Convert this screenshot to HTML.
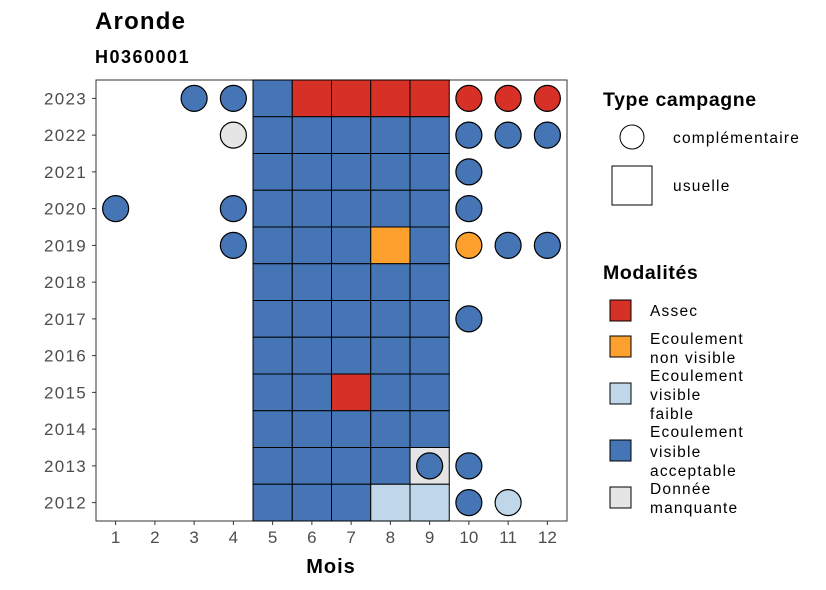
<!DOCTYPE html>
<html><head><meta charset="utf-8"><style>
body{margin:0;background:#fff;}
svg{display:block;font-family:"Liberation Sans",sans-serif;}
.lg{font-size:15.5px;letter-spacing:1.2px;}
</style></head><body>
<svg id="chart" width="826" height="590">
<text x="95" y="29" font-size="24" font-weight="bold" letter-spacing="1.2">Aronde</text>
<text x="95" y="63" font-size="18" font-weight="bold" letter-spacing="1.5">H0360001</text>
<text x="331" y="573" font-size="20" font-weight="bold" letter-spacing="1" text-anchor="middle">Mois</text>
<g id="plot"></g>
<g>
<text x="603" y="106" font-size="19.5" font-weight="bold" letter-spacing="0.6">Type campagne</text>
<circle cx="632" cy="137" r="12" fill="#fff" stroke="#000"/>
<text x="673" y="143" class="lg">complémentaire</text>
<rect x="612" y="166" width="40" height="39" fill="#fff" stroke="#000"/>
<text x="673" y="191" class="lg">usuelle</text>
<text x="603" y="279" font-size="19.5" font-weight="bold" letter-spacing="0.6">Modalités</text>
<rect x="610" y="300" width="21" height="21" fill="#D73027" stroke="#000"/>
<text x="650" y="316" class="lg">Assec</text>
<rect x="610" y="336" width="21" height="21" fill="#FDA02E" stroke="#000"/>
<text class="lg"><tspan x="650" y="344">Ecoulement</tspan><tspan x="650" y="363">non visible</tspan></text>
<rect x="610" y="383" width="21" height="21" fill="#BFD7E8" stroke="#000"/>
<text class="lg"><tspan x="650" y="381">Ecoulement</tspan><tspan x="650" y="400">visible</tspan><tspan x="650" y="419">faible</tspan></text>
<rect x="610" y="440" width="21" height="21" fill="#4575B4" stroke="#000"/>
<text class="lg"><tspan x="650" y="437">Ecoulement</tspan><tspan x="650" y="457">visible</tspan><tspan x="650" y="476">acceptable</tspan></text>
<rect x="610" y="487" width="21" height="21" fill="#E5E5E5" stroke="#000"/>
<text class="lg"><tspan x="650" y="494">Donnée</tspan><tspan x="650" y="513">manquante</tspan></text>
</g>
</svg>
<script>
const years=[2012,2013,2014,2015,2016,2017,2018,2019,2020,2021,2022,2023];
const months=[1,2,3,4,5,6,7,8,9,10,11,12];
const colors={A:"#D73027",N:"#FDA02E",F:"#BFD7E8",V:"#4575B4",M:"#E5E5E5"};
// tiles (usuelle): [year, month, modality]
const tiles=[
[2023,5,"V"],[2023,6,"A"],[2023,7,"A"],[2023,8,"A"],[2023,9,"A"],
[2022,5,"V"],[2022,6,"V"],[2022,7,"V"],[2022,8,"V"],[2022,9,"V"],
[2021,5,"V"],[2021,6,"V"],[2021,7,"V"],[2021,8,"V"],[2021,9,"V"],
[2020,5,"V"],[2020,6,"V"],[2020,7,"V"],[2020,8,"V"],[2020,9,"V"],
[2019,5,"V"],[2019,6,"V"],[2019,7,"V"],[2019,8,"N"],[2019,9,"V"],
[2018,5,"V"],[2018,6,"V"],[2018,7,"V"],[2018,8,"V"],[2018,9,"V"],
[2017,5,"V"],[2017,6,"V"],[2017,7,"V"],[2017,8,"V"],[2017,9,"V"],
[2016,5,"V"],[2016,6,"V"],[2016,7,"V"],[2016,8,"V"],[2016,9,"V"],
[2015,5,"V"],[2015,6,"V"],[2015,7,"A"],[2015,8,"V"],[2015,9,"V"],
[2014,5,"V"],[2014,6,"V"],[2014,7,"V"],[2014,8,"V"],[2014,9,"V"],
[2013,5,"V"],[2013,6,"V"],[2013,7,"V"],[2013,8,"V"],[2013,9,"M"],
[2012,5,"V"],[2012,6,"V"],[2012,7,"V"],[2012,8,"F"],[2012,9,"F"]];
// circles (complementaire)
const points=[
[2023,3,"V"],[2023,4,"V"],[2023,10,"A"],[2023,11,"A"],[2023,12,"A"],
[2022,4,"M"],[2022,10,"V"],[2022,11,"V"],[2022,12,"V"],
[2021,10,"V"],
[2020,1,"V"],[2020,4,"V"],[2020,10,"V"],
[2019,4,"V"],[2019,10,"N"],[2019,11,"V"],[2019,12,"V"],
[2017,10,"V"],
[2013,9,"V"],[2013,10,"V"],
[2012,10,"V"],[2012,11,"F"]];
const NS="http://www.w3.org/2000/svg";
const g=document.getElementById("plot");
const L=96,R=567,T=80,B=521;
const dx=(R-L)/12, dy=(B-T)/12;
function xs(m){return L+(m-0.5)*dx;}
function ys(y){return B-(y-2012+0.5)*dy;}
function mk(tag,at){const e=document.createElementNS(NS,tag);for(const k in at)e.setAttribute(k,at[k]);g.appendChild(e);return e;}
const frame=mk("rect",{x:L,y:T,width:R-L,height:B-T,fill:"#fff",stroke:"#333","stroke-width":1});


tiles.forEach(t=>{
 const e=mk("rect",{x:xs(t[1])-dx/2,y:ys(t[0])-dy/2,width:dx,height:dy,fill:colors[t[2]],stroke:"#000","stroke-width":1});
 
 
});
points.forEach(p=>{
 const e=mk("circle",{cx:xs(p[1]),cy:ys(p[0]),r:13,fill:colors[p[2]],stroke:"#000","stroke-width":1.2});
 
 
});
years.forEach(y=>{
 mk("line",{x1:L-4,x2:L,y1:ys(y),y2:ys(y),stroke:"#333"});
 const t=mk("text",{x:L-9,y:ys(y)+6,"font-size":17,"letter-spacing":1.3,fill:"#4d4d4d","text-anchor":"end"});
 t.textContent=y;
 
 
});
months.forEach(m=>{
 mk("line",{x1:xs(m),x2:xs(m),y1:B,y2:B+4,stroke:"#333"});
 const t=mk("text",{x:xs(m),y:B+22,"font-size":17,fill:"#4d4d4d","text-anchor":"middle"});
 t.textContent=m;
 
 
});
</script>
</body></html>
